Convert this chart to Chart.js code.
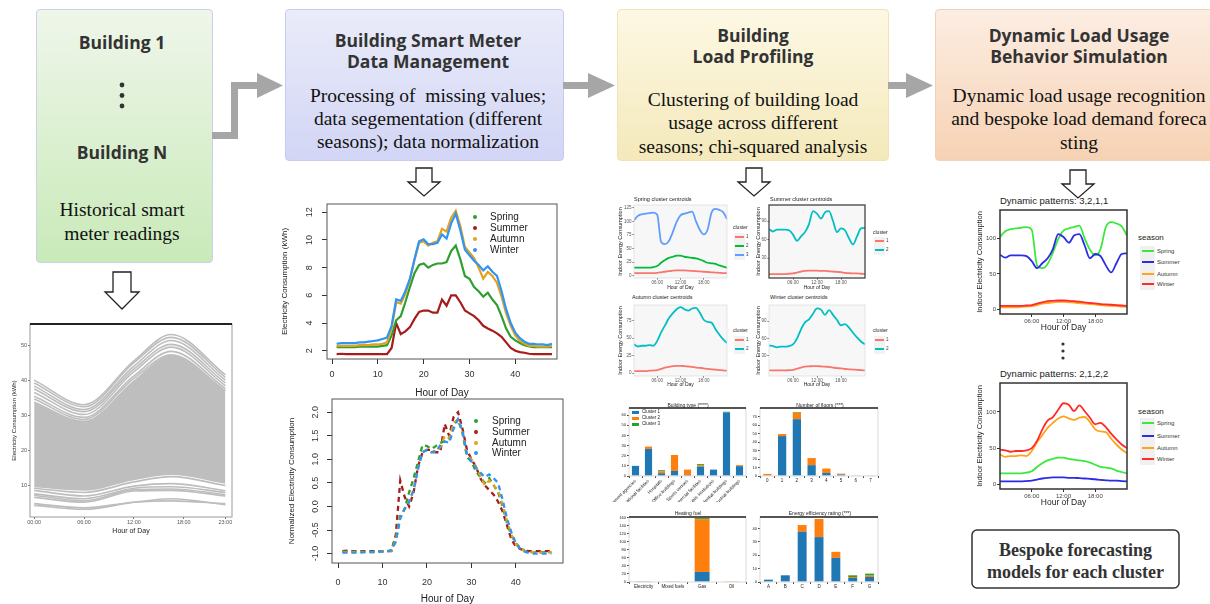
<!DOCTYPE html>
<html>
<head>
<meta charset="utf-8">
<title>Building load profiling workflow</title>
<script src="https://cdn.jsdelivr.net/npm/chart.js@4.4.1/dist/chart.umd.min.js"></script>
<style>
  body { margin: 0; width: 1210px; height: 604px; position: relative; overflow: hidden; background: #fff; }
  canvas { position: absolute; }
  .box { position: absolute; box-sizing: border-box; border-radius: 4px; border: 1px solid; }
  .t { position: absolute; white-space: nowrap; line-height: 1; font-family: 'Liberation Sans', Arial, sans-serif; color: #222; }
  .hd { font-family: 'Open Sans', sans-serif; font-weight: 700; color: #333; }
  .bd { font-family: 'Liberation Serif', serif; color: #111; }
  svg { position: absolute; left: 0; top: 0; }
</style>
</head>
<body>
<div class="box" style="left:36px;top:9px;width:177px;height:254px;border-color:#c9d1ee;background:linear-gradient(#eff6ea,#c9eab9)"></div>
<div class="box" style="left:285px;top:9px;width:279px;height:152px;border-color:#c8cbee;background:linear-gradient(#eaecf9,#d2d5f5)"></div>
<div class="box" style="left:617px;top:9px;width:272px;height:152px;border-color:#f0e3b4;background:linear-gradient(#fdf8e4,#f4e9bb)"></div>
<div class="box" style="left:935px;top:9px;width:278px;height:152px;border-color:#f3d3b8;background:linear-gradient(#fcede2,#f6d2b4)"></div>

<svg width="1210" height="604">
  <polyline points="212,135.5 234.5,135.5 234.5,85.5 258,85.5" fill="none" stroke="#a6a6a6" stroke-width="7"/>
  <polygon points="257,73 283,85.5 257,98" fill="#a6a6a6"/>
  <line x1="563" y1="85.5" x2="589" y2="85.5" stroke="#a6a6a6" stroke-width="7"/>
  <polygon points="588,73 615,85.5 588,98" fill="#a6a6a6"/>
  <line x1="888" y1="85.5" x2="907" y2="85.5" stroke="#a6a6a6" stroke-width="7"/>
  <polygon points="906,73 933,85.5 906,98" fill="#a6a6a6"/>

  <g fill="#fff" stroke="#222" stroke-width="1.3" stroke-linejoin="miter">
    <polygon points="113,272 131,272 131,292 139,292 122,309 105,292 113,292"/>
    <polygon points="416,168 432,168 432,182 440,182 424,196 408,182 416,182"/>
    <polygon points="746,168 762,168 762,182 770,182 754,196 738,182 746,182"/>
    <polygon points="1070,170 1086,170 1086,184 1094,184 1078,198 1062,184 1070,184"/>
  </g>
  <g fill="#333">
    <circle cx="122" cy="85" r="2.4"/><circle cx="122" cy="95.5" r="2.4"/><circle cx="122" cy="106" r="2.4"/>
    <circle cx="1063" cy="344" r="1.6"/><circle cx="1063" cy="351" r="1.6"/><circle cx="1063" cy="358" r="1.6"/>
  </g>
  <rect x="972" y="530" width="207" height="58" rx="5" fill="#fff" stroke="#333" stroke-width="1.5"/>
</svg>

<script>
// ---------------- data ----------------
// raw smart meter readings (grey panel)
const rawHours = [0, 6, 12, 16.5, 23];
const rawTicks = [0, 6, 12, 18, 23];
const rawTickLabels = ['00:00', '06:00', '12:00', '18:00', '23:00'];
const rawYTicks = [10, 20, 30, 40, 50];
const rawBandTop = [34, 28.5, 40, 47, 37];
const rawBandBottom = [9.5, 8.5, 11.5, 13, 10.5];
const rawLines = [
  [40, 33, 45.5, 53, 41.5],
  [39.2, 32.4, 45, 52.2, 40.8],
  [38.3, 31.6, 44, 51.3, 40],
  [37.5, 31, 43.2, 50.2, 39.2],
  [36.5, 30.2, 42.4, 49.4, 38.4],
  [35.4, 29.4, 41.2, 48.2, 37.6],
  [34.6, 28.8, 40.5, 47.2, 37],
  [9.2, 8, 11, 12.5, 10],
  [8.6, 7, 9.8, 10.5, 8.5],
  [7.6, 6.2, 9.2, 9.6, 8],
  [7.2, 5.6, 8.8, 9, 7.4],
  [6.6, 5.2, 8.4, 8.6, 7],
  [4.8, 3.6, 5.2, 5.6, 4.8],
  [4.3, 3.2, 5.2, 6.2, 4.5]
];

// seasonal average profile (48 half-hour slots)
const halfHours = [1, 2, 3, 4, 5, 6, 7, 8, 9, 10, 11, 12, 13, 14, 15, 16, 17, 18, 19, 20, 21, 22, 23, 24,
  25, 26, 27, 28, 29, 30, 31, 32, 33, 34, 35, 36, 37, 38, 39, 40, 41, 42, 43, 44, 45, 46, 47, 48];
const slotTicks = [0, 10, 20, 30, 40];
const kwhTicks = [2, 4, 6, 8, 10, 12];
const kwhSpring = [2.25, 2.25, 2.25, 2.25, 2.25, 2.3, 2.3, 2.3, 2.3, 2.3, 2.35, 2.4, 3.1, 4.2, 4.5, 5.5, 6.6, 7.6, 8.2, 8.3, 8.0, 8.2, 8.3, 8.3,
  8.4, 9.2, 9.6, 8.6, 7.4, 7.2, 6.6, 6.3, 5.9, 6.2, 5.7, 5.3, 4.5, 3.6, 3.0, 2.75, 2.55, 2.4, 2.3, 2.25, 2.25, 2.25, 2.25, 2.25];
const kwhSummer = [1.75, 1.78, 1.75, 1.75, 1.75, 1.75, 1.75, 1.75, 1.75, 1.75, 1.75, 1.75, 2.2, 4.0, 3.2, 3.4, 3.7, 4.3, 4.8, 4.9, 4.9, 4.75, 4.75, 5.7,
  5.25, 6.0, 6.0, 5.5, 4.9, 4.7, 4.5, 4.2, 3.8, 3.6, 3.45, 3.25, 3.0, 2.6, 2.2, 2.0, 1.9, 1.85, 1.78, 1.75, 1.75, 1.75, 1.75, 1.75];
const kwhAutumn = [2.35, 2.35, 2.35, 2.35, 2.35, 2.4, 2.4, 2.4, 2.45, 2.45, 2.5, 2.6, 3.6, 5.5, 5.4, 6.1, 7.1, 8.6, 9.8, 9.9, 9.6, 9.8, 9.9, 10.8,
  10.6, 11.6, 12.1, 11.0, 9.5, 9.1, 8.7, 8.0, 7.2, 7.7, 7.4, 6.9, 5.9, 4.7, 3.8, 3.1, 2.7, 2.5, 2.35, 2.35, 2.3, 2.3, 2.3, 2.35];
const kwhWinter = [2.5, 2.55, 2.55, 2.55, 2.55, 2.6, 2.6, 2.65, 2.7, 2.75, 2.85, 2.95, 3.8, 5.7, 5.6, 6.3, 7.2, 8.6, 9.9, 10.05, 9.7, 9.7, 9.8, 10.4,
  10.1, 11.2, 11.9, 10.7, 9.3, 8.9, 8.5, 8.2, 7.8, 8.1, 7.7, 7.4, 6.3, 5.0, 4.0, 3.3, 2.9, 2.65, 2.5, 2.5, 2.45, 2.45, 2.4, 2.5];

// normalized profiles
const normTicks = [-1, -0.5, 0, 0.5, 1, 1.5, 2];
const normTickLabels = ['-1.0', '-0.5', '0.0', '0.5', '1.0', '1.5', '2.0'];
const normSpring = [-0.96, -0.96, -0.96, -0.96, -0.96, -0.96, -0.96, -0.96, -0.96, -0.95, -0.95, -0.94, -0.65, -0.2, -0.05, 0.3, 0.6, 0.95, 1.3, 1.28, 1.22, 1.28, 1.35, 1.38,
  1.42, 1.75, 1.85, 1.55, 1.05, 0.95, 0.75, 0.62, 0.5, 0.6, 0.45, 0.3, 0.0, -0.35, -0.62, -0.78, -0.88, -0.94, -0.97, -0.97, -0.97, -0.97, -0.97, -0.97];
const normSummer = [-0.95, -0.94, -0.95, -0.95, -0.95, -0.95, -0.95, -0.95, -0.95, -0.95, -0.95, -0.95, -0.6, 0.55, 0.2, 0.0, 0.3, 0.85, 1.15, 1.2, 1.2, 1.15, 1.15, 1.75,
  1.5, 1.9, 2.0, 1.65, 1.2, 1.0, 0.85, 0.6, 0.45, 0.35, 0.25, 0.1, -0.1, -0.4, -0.7, -0.85, -0.9, -0.94, -0.95, -0.95, -0.95, -0.95, -0.95, -0.95];
const normAutumn = [-0.97, -0.97, -0.97, -0.97, -0.97, -0.97, -0.97, -0.97, -0.96, -0.96, -0.95, -0.94, -0.72, -0.25, -0.05, 0.1, 0.35, 0.8, 1.15, 1.2, 1.15, 1.2, 1.25, 1.5,
  1.45, 1.75, 1.85, 1.6, 1.1, 1.0, 0.85, 0.65, 0.45, 0.55, 0.45, 0.35, 0.05, -0.3, -0.6, -0.8, -0.9, -0.95, -0.97, -0.97, -0.98, -0.98, -0.98, -0.97];
const normWinter = [-0.98, -0.98, -0.98, -0.98, -0.98, -0.97, -0.97, -0.97, -0.96, -0.96, -0.95, -0.93, -0.75, -0.25, -0.05, 0.1, 0.35, 0.8, 1.15, 1.2, 1.15, 1.15, 1.3, 1.38,
  1.35, 1.65, 1.85, 1.6, 1.1, 0.95, 0.82, 0.72, 0.62, 0.68, 0.6, 0.5, 0.15, -0.25, -0.55, -0.78, -0.9, -0.96, -0.99, -1.0, -1.0, -1.0, -1.0, -1.0];

// cluster centroids (hourly, 00:00 - 24:00)
const clusterHours = [0, 1, 2, 3, 4, 5, 6, 7, 8, 9, 10, 11, 12, 13, 14, 15, 16, 17, 18, 19, 20, 21, 22, 23, 24];
const clockTicks = [6, 12, 18];
const clockLabels = ['06:00', '12:00', '18:00'];
const springC1 = [5, 5, 5, 5, 5, 5, 5.5, 6.5, 7.5, 8.5, 9.5, 10, 10, 10, 9.5, 9, 8.5, 8, 7.5, 7, 6.5, 6, 5.5, 5, 5];
const springC2 = [15, 15, 15, 15, 15, 16, 18, 24, 29, 33, 35, 37, 37, 35, 34, 33, 32, 30, 27, 24, 23, 22, 19, 17, 15];
const springC3 = [102, 110, 113, 114, 115, 116, 112, 62, 58, 64, 80, 99, 111, 114, 116, 118, 100, 84, 76, 85, 116, 123, 121, 117, 104];
const summerC1 = [4, 4, 4, 4, 4, 4.5, 5, 6.5, 8, 9, 9.5, 9.5, 9.5, 9, 9, 8.5, 8, 7.5, 7, 6, 5.5, 5, 5, 4.5, 4];
const summerC2 = [77, 73, 76, 76, 76, 75, 68, 58, 65, 72, 85, 106, 102, 94, 104, 106, 90, 72, 78, 75, 62, 52, 65, 78, 79];
const autumnC1 = [3, 3, 3, 3, 3.5, 4, 4.5, 6, 8, 9, 10, 10.5, 10.5, 10, 9.5, 9, 8, 7.5, 7, 6, 5.5, 5, 4.5, 4, 3.5];
const autumnC2 = [41, 38, 39, 39, 40, 39, 46, 58, 68, 78, 85, 91, 94, 91, 89, 92, 93, 86, 76, 73, 72, 63, 55, 48, 43];
const winterC1 = [5, 5, 5, 5, 5, 5.5, 6, 8, 10, 11.5, 12, 12.5, 12.5, 12, 11.5, 11, 10, 9, 8.5, 7.5, 7, 6.5, 6, 5.5, 5];
const winterC2 = [48, 47, 45, 46, 46, 47, 50, 60, 76, 88, 93, 103, 112, 110, 101, 109, 101, 92, 83, 85, 79, 70, 62, 55, 50];
const springTicks = [0, 25, 50, 75, 100, 125];
const summerTicks = [30, 60, 90];
const autumnTicks = [0, 25, 50, 75];
const winterTicks = [30, 60, 90];
const dynTicks = [0, 50, 100];

// chi-squared cross tables (building counts per cluster)
const typeCats = ['Government agencies', 'Educational facilities', 'Hospitals', 'Office buildings', 'Sports venues',
  'Commercial facilities', 'Public institutions', 'Residential buildings', 'Industrial buildings'];
const typeCounts = [
  [10, 26.7, 2.7, 5, 1, 9.3, 6.3, 62.7, 9.7],
  [0, 2.3, 2, 15.7, 5.3, 1.4, 0, 0, 1],
  [0, 0, 1, 0, 0, 1, 0, 0.6, 0]
];
const typeTicks = [0, 10, 20, 30, 40, 50, 60];
const floorCats = ['0', '1', '2', '3', '4', '5', '6', '7'];
const floorCounts = [
  [0.8, 47.2, 67.2, 12.8, 3.6, 1.6, 0, 0],
  [1.6, 2.4, 7.6, 8.4, 5.2, 1.2, 0.8, 0.8],
  [0, 0, 0.8, 0, 0, 0, 0, 0]
];
const floorTicks = [0, 10, 20, 30, 40, 50, 60, 70];
const fuelCats = ['Electricity', 'Mixed fuels', 'Gas', 'Oil'];
const fuelCounts = [
  [0.6, 0, 25, 0],
  [0, 0.6, 131.7, 0.6],
  [0, 0, 2.5, 0]
];
const fuelTicks = [0, 20, 40, 60, 80, 100, 120, 140, 160];
const ratingCats = ['A', 'B', 'C', 'D', 'E', 'F', 'G'];
const ratingCounts = [
  [1.75, 5, 37.5, 33.5, 18, 3, 3.75],
  [0, 0, 5, 13.5, 4.5, 0.75, 1],
  [0, 0, 0, 0, 0, 1.25, 1.5]
];
const ratingTicks = [0, 10, 20, 30, 40];

const seasons = ['Spring', 'Summer', 'Autumn', 'Winter'];
const clusterNames = ['Cluster 1', 'Cluster 2', 'Cluster 3'];

// ---------------- styles ----------------
const C = { Spring: '#2e9f2e', Summer: '#a51c1c', Autumn: '#e3a21e', Winter: '#3094f4' };
const D = { Spring: '#3be83b', Summer: '#2b2be8', Autumn: '#ffa31a', Winter: '#ff2a2a' };
const gg3 = ['#F8766D', '#00BA38', '#619CFF'];
const gg2 = ['#F8766D', '#00BFC4'];
const mpl = ['#1f77b4', '#ff7f0e', '#2ca02c'];

Chart.defaults.font.family = "'Liberation Sans', Arial, sans-serif";
Chart.defaults.color = '#333';

// frame around the plotting area (R box / ggplot panel / matplotlib spines)
const framePlugin = {
  id: 'frame',
  beforeDraw(chart, args, o) {
    if (!o.fill) return;
    const { ctx, chartArea: a } = chart;
    ctx.save(); ctx.fillStyle = o.fill; ctx.fillRect(a.left, a.top, a.width, a.height); ctx.restore();
  },
  afterDraw(chart, args, o) {
    if (!o.color) return;
    const { ctx, chartArea: a } = chart;
    ctx.save();
    ctx.strokeStyle = o.color; ctx.lineWidth = o.width || 1;
    ctx.strokeRect(a.left, a.top, a.width, a.height);
    if (o.topColor) {
      ctx.strokeStyle = o.topColor; ctx.lineWidth = o.topWidth || 1.5;
      ctx.beginPath(); ctx.moveTo(a.left, a.top); ctx.lineTo(a.right, a.top); ctx.stroke();
    }
    ctx.restore();
  }
};
Chart.register(framePlugin);

// canvas rect [x, y, w, h] and plot area [left, top, right, bottom] in page pixels
function mk(rect, plot, cfg) {
  const [cx, cy, cw, ch] = rect;
  const cv = document.createElement('canvas');
  cv.width = cw; cv.height = ch;
  Object.assign(cv.style, { left: cx + 'px', top: cy + 'px', width: cw + 'px', height: ch + 'px' });
  document.body.appendChild(cv);
  const o = cfg.options;
  o.responsive = false;
  o.animation = false;
  o.layout = { padding: { left: 0, top: plot[1] - cy, right: cx + cw - plot[2], bottom: 0 } };
  const noPad = s => { s.paddingLeft = 0; s.paddingRight = 0; s.paddingTop = 0; s.paddingBottom = 0; };
  o.scales.x.afterFit = s => { s.height = cy + ch - plot[3]; noPad(s); };
  o.scales.y.afterFit = s => { s.width = plot[0] - cx; noPad(s); };
  o.plugins = Object.assign({ legend: { display: false }, tooltip: { enabled: false } }, o.plugins);
  return new Chart(cv, cfg);
}

function axis(min, max, tickVals, tickLabels, o) {
  return {
    type: 'linear', min, max,
    afterBuildTicks: s => { s.ticks = tickVals.map(v => ({ value: v })); },
    border: { display: false },
    grid: { display: true, drawOnChartArea: false, drawTicks: true, tickLength: o.tl, color: o.tc || '#333', lineWidth: o.tw || 1 },
    ticks: {
      padding: o.pad, color: o.col || '#333', font: { size: o.fs }, autoSkip: false,
      minRotation: o.rot || 0, maxRotation: o.rot || 0, crossAlign: o.cross || 'near',
      callback: (v, i) => tickLabels ? tickLabels[i] : String(v)
    },
    title: o.title ? { display: true, text: o.title, color: '#222', font: { size: o.tfs }, padding: 0 } : { display: false }
  };
}

const pts = (xs, ys) => ys.map((v, i) => ({ x: xs[i], y: v }));
function ln(xs, ys, color, w, extra) {
  return Object.assign({ data: pts(xs, ys), borderColor: color, borderWidth: w, pointRadius: 0, fill: false, tension: 0 }, extra || {});
}

// html text helper
function T(s, x, y, size, o) {
  o = o || {};
  const d = document.createElement('div');
  d.className = 't';
  d.textContent = s;
  d.style.left = x + 'px'; d.style.top = y + 'px'; d.style.fontSize = size + 'px';
  if (o.color) d.style.color = o.color;
  if (o.cls) d.className += ' ' + o.cls;
  d.style.transform = o.a === 'l' ? 'translate(0,-50%)' : 'translate(-50%,-50%)';
  document.body.appendChild(d);
  return d;
}
function bar(x, y, w, h, color) {
  const d = document.createElement('div');
  Object.assign(d.style, { position: 'absolute', left: x + 'px', top: y + 'px', width: w + 'px', height: h + 'px', background: color });
  document.body.appendChild(d);
  return d;
}

// ---------------- flow boxes text ----------------
const HD = 17.5, BD = 19.5;
T('Building 1', 122, 43, HD, { cls: 'hd' });
T('Building N', 122, 153, HD, { cls: 'hd' });
T('Historical smart', 122, 210, BD, { cls: 'bd' });
T('meter readings', 122, 234, BD, { cls: 'bd' });

T('Building Smart Meter', 428, 41, HD, { cls: 'hd' });
T('Data Management', 428, 62, HD, { cls: 'hd' });
T('Processing of  missing values;', 428, 96, BD, { cls: 'bd' }).style.whiteSpace = 'pre';
T('data segementation (different', 428, 119, BD, { cls: 'bd' });
T('seasons); data normalization', 428, 142, BD, { cls: 'bd' });

T('Building', 753, 36, HD, { cls: 'hd' });
T('Load Profiling', 753, 57, HD, { cls: 'hd' });
T('Clustering of building load', 753, 100, BD, { cls: 'bd' });
T('usage across different', 753, 123, BD, { cls: 'bd' });
T('seasons; chi-squared analysis', 753, 147, BD, { cls: 'bd' });

T('Dynamic Load Usage', 1079, 36, HD, { cls: 'hd' });
T('Behavior Simulation', 1079, 57, HD, { cls: 'hd' });
T('Dynamic load usage recognition', 1079, 96, BD, { cls: 'bd' });
T('and bespoke load demand foreca', 1079, 119, BD, { cls: 'bd' });
T('sting', 1079, 143, BD, { cls: 'bd' });

const bes1 = T('Bespoke forecasting', 1075.5, 550, 18, { cls: 'bd' });
const bes2 = T('models for each cluster', 1075.5, 572, 18, { cls: 'bd' });
bes1.style.fontWeight = bes2.style.fontWeight = '700';
bes1.style.color = bes2.style.color = '#333';

// ---------------- raw readings (grey lines) ----------------
mk([11, 318, 225, 217], [30, 324, 232, 517], {
  type: 'line',
  data: {
    datasets: [
      ln(rawHours, rawBandTop, '#bebebe', 0, { fill: '+1', backgroundColor: '#bebebe', cubicInterpolationMode: 'monotone' }),
      ln(rawHours, rawBandBottom, '#bebebe', 0, { cubicInterpolationMode: 'monotone' })
    ].concat(rawLines.map(r => ln(rawHours, r, '#bdbdbd', 1.6, { cubicInterpolationMode: 'monotone' })))
  },
  options: {
    plugins: { frame: { color: '#9a9a9a', width: 1, topColor: '#222', topWidth: 2 } },
    scales: {
      x: axis(-0.5, 23.8, rawTicks, rawTickLabels, { tl: 2, pad: 0.5, fs: 5.5, col: '#555', tc: '#777', title: 'Hour of Day', tfs: 7 }),
      y: axis(1, 56, rawYTicks, null, { tl: 2, pad: 1, fs: 5.5, col: '#555', tc: '#777', title: 'Electricity Consumption (kWh)', tfs: 6 })
    }
  }
});

// ---------------- seasonal kWh profile ----------------
const kwhSeries = { Spring: kwhSpring, Summer: kwhSummer, Autumn: kwhAutumn, Winter: kwhWinter };
const normSeries = { Spring: normSpring, Summer: normSummer, Autumn: normAutumn, Winter: normWinter };
const rOrder = { Winter: 0, Autumn: 1, Spring: 2, Summer: 3 };

mk([280, 191, 282, 208], [327, 204, 557, 359], {
  type: 'line',
  data: { datasets: seasons.map(s => ln(halfHours, kwhSeries[s], C[s], 2.2, { order: rOrder[s] })) },
  options: {
    plugins: { frame: { color: '#555', width: 1 } },
    scales: {
      x: axis(-1.1, 49.1, slotTicks, null, { tl: 5, pad: 5, fs: 9, title: 'Hour of Day', tfs: 10 }),
      y: axis(1.4, 12.6, kwhTicks, null, { tl: 5, pad: 7, fs: 9, rot: 90, cross: 'center', title: 'Electricity Consumption (kWh)', tfs: 8 })
    }
  }
});

mk([287, 390, 280, 215], [332, 399, 563, 563], {
  type: 'line',
  data: { datasets: seasons.map(s => ln(halfHours, normSeries[s], C[s], 2.3, { order: rOrder[s], borderDash: [5, 4] })) },
  options: {
    plugins: { frame: { color: '#555', width: 1 } },
    scales: {
      x: axis(-1.35, 50.6, slotTicks, null, { tl: 5, pad: 9, fs: 9, title: 'Hour of Day', tfs: 10 }),
      y: axis(-1.2, 2.28, normTicks, normTickLabels, { tl: 5, pad: 4, fs: 9, rot: 90, cross: 'center', title: 'Normalized Electricity Consumption', tfs: 8 })
    }
  }
});

function rLegend(dotX, textX, ys) {
  seasons.forEach((s, i) => {
    const d = bar(dotX - 2, ys[i] - 2, 4, 4, C[s]);
    d.style.borderRadius = '50%';
    T(s, textX, ys[i], 10, { a: 'l', color: '#222' });
  });
}
rLegend(475, 490, [217, 228, 239, 250]);
rLegend(476, 492, [421, 432, 443, 453]);

// ---------------- cluster centroid panels ----------------
function clusterPanel(rect, plot, series, colors, yMin, yMax, yTicks, framed) {
  mk(rect, plot, {
    type: 'line',
    data: { datasets: series.map((s, i) => ln(clusterHours, s, colors[i], 1.8, { order: series.length - i, cubicInterpolationMode: 'monotone' })) },
    options: {
      plugins: { frame: { color: framed ? '#444' : '#dedede', width: framed ? 1.3 : 0.8, fill: '#f7f7f7' } },
      scales: {
        x: axis(0, 24, clockTicks, clockLabels, { tl: 1.5, pad: 0.5, fs: 4.5, col: '#555', tc: '#555', title: 'Hour of Day', tfs: 5 }),
        y: axis(yMin, yMax, yTicks, null, { tl: 1.5, pad: 1, fs: 4.5, col: '#555', tc: '#555', title: 'Indoor Energy Consumption', tfs: 5.5 })
      }
    }
  });
}
clusterPanel([617, 203, 112, 88], [634, 205, 727, 278], [springC1, springC2, springC3], gg3, -4, 130, springTicks, false);
clusterPanel([755, 203, 112, 88], [769, 205, 865, 278], [summerC1, summerC2], gg2, -2.4, 116, summerTicks, true);
clusterPanel([617, 303, 112, 85], [634, 305, 727, 376], [autumnC1, autumnC2], gg2, -4, 97, autumnTicks, false);
clusterPanel([755, 303, 112, 85], [769, 305, 865, 376], [winterC1, winterC2], gg2, -4.6, 118, winterTicks, false);

T('Spring cluster centroids', 634, 200, 5.5, { a: 'l' });
T('Summer cluster centroids', 770, 200, 5.5, { a: 'l' });
T('Autumn cluster centroids', 632, 298, 5.5, { a: 'l' });
T('Winter cluster centroids', 770, 298, 5.5, { a: 'l' });

function clusterLegend(x, y, colors, ys) {
  T('cluster', x, y, 5, { a: 'l' });
  bar(x + 1, ys[0] - 4.5, 11, ys[ys.length - 1] - ys[0] + 9, '#f2f2f2');
  colors.forEach((c, i) => {
    bar(x + 2, ys[i] - 0.8, 9, 1.6, c);
    T(String(i + 1), x + 13, ys[i], 4.5, { a: 'l', color: '#333' });
  });
}
clusterLegend(733, 227, gg3, [237, 246, 255]);
clusterLegend(873, 232, gg2, [241, 250]);
clusterLegend(733, 330, gg2, [340, 349]);
clusterLegend(873, 330, gg2, [340, 349]);

// ---------------- stacked bar panels ----------------
function barPanel(rect, plot, cats, stacks, yMax, yTicks, rot, frac) {
  mk(rect, plot, {
    type: 'bar',
    data: {
      labels: cats,
      datasets: stacks.map((d, i) => ({ label: clusterNames[i], data: d, backgroundColor: mpl[i], borderWidth: 0, categoryPercentage: 1, barPercentage: frac }))
    },
    options: {
      plugins: { frame: { color: '#cfcfcf', width: 0.8, topColor: '#222', topWidth: 1.5 } },
      scales: {
        x: {
          type: 'category', stacked: true, border: { display: false },
          grid: { display: true, drawOnChartArea: false, tickLength: 2, color: '#444' },
          ticks: { font: { size: 4.5 }, color: '#222', padding: 0.5, autoSkip: false, minRotation: rot, maxRotation: rot }
        },
        y: Object.assign(axis(0, yMax, yTicks, null, { tl: 2, pad: 1, fs: 4, col: '#222', tc: '#444' }), { stacked: true })
      }
    }
  });
}
barPanel([596, 404, 154, 98], [629, 408, 746, 476], typeCats, typeCounts, 67, typeTicks, 45, 0.55);
barPanel([748, 404, 134, 82], [760, 408, 878, 476], floorCats, floorCounts, 80.4, floorTicks, 0, 0.56);
barPanel([612, 513, 138, 80], [629, 517, 746, 582], fuelCats, fuelCounts, 162, fuelTicks, 0, 0.51);
barPanel([748, 513, 134, 80], [760, 517, 878, 582], ratingCats, ratingCounts, 48.5, ratingTicks, 0, 0.53);

T('Building type (****)', 688, 405, 5);
T('Number of floors (***)', 820, 405, 5);
T('Heating fuel', 688, 513, 5);
T('Energy efficiency rating (***)', 820, 513, 5);
[412, 418, 424].forEach((y, i) => {
  bar(632, y - 1.5, 7, 3, mpl[i]);
  T(clusterNames[i], 642, y, 4.5, { a: 'l' });
});

// ---------------- dynamic pattern panels ----------------
function dynPanel(rect, plot, series) {
  mk(rect, plot, {
    type: 'line',
    data: { datasets: seasons.map((s, i) => ln(clusterHours, series[i], D[s], 1.8, { order: 3 - i, cubicInterpolationMode: 'monotone' })) },
    options: {
      plugins: { frame: { color: '#333', width: 1.5 } },
      scales: {
        x: axis(0, 24, clockTicks, clockLabels, { tl: 3, pad: 1, fs: 6, col: '#444', title: 'Hour of Day', tfs: 8.5 }),
        y: axis(-6.5, 140, dynTicks, null, { tl: 3, pad: 1, fs: 6, col: '#444', title: 'Indoor Electricity Consumption', tfs: 7.5 })
      }
    }
  });
}
dynPanel([975, 208, 155, 125], [1000, 210, 1127, 314], [springC3, summerC2, autumnC1, winterC1]);
dynPanel([975, 381, 155, 127], [1000, 383, 1127, 489], [springC2, summerC1, autumnC2, winterC2]);
T('Dynamic patterns: 3,2,1,1', 1000, 201, 9.5, { a: 'l' });
T('Dynamic patterns: 2,1,2,2', 1000, 374, 9.5, { a: 'l' });

function dynLegend(y, ys) {
  T('season', 1138, y, 8, { a: 'l' });
  bar(1140, ys[0] - 5.5, 15, ys[3] - ys[0] + 11, '#f0f0f0');
  seasons.forEach((s, i) => {
    bar(1141.5, ys[i] - 1, 12, 2, D[s]);
    T(s, 1157, ys[i], 6, { a: 'l', color: '#333' });
  });
}
dynLegend(238, [251, 262, 274, 284]);
dynLegend(412, [423, 436, 448, 459]);
</script>
</body>
</html>
